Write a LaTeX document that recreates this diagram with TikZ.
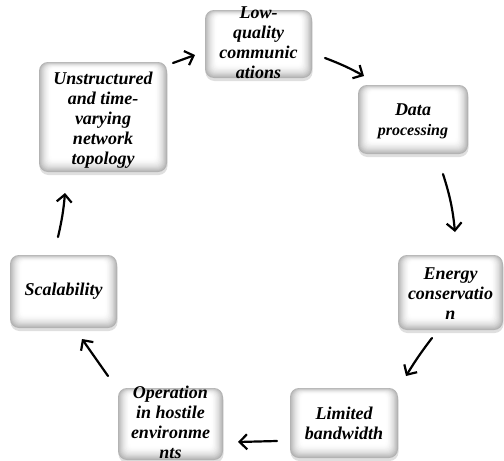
\documentclass[tikz,border=0pt]{standalone}
\usepackage{fontspec}
\setmainfont{Liberation Serif}
\usetikzlibrary{arrows.meta,shadows}
\tikzset{
  box/.style={rounded corners=9pt, inner sep=0pt, fill=black!30,
    drop shadow={opacity=0.25, shadow xshift=0.5pt, shadow yshift=-3pt},
    path picture={
      \foreach \i in {1,...,14}{
        \pgfmathsetmacro\c{30*(1-\i/14)^1.8}
        \pgfmathsetmacro\rc{max(3,9-0.4*\i)}
        \fill[black!\c, rounded corners=\rc pt]
          ([shift={(\i*0.85pt,-\i*0.45pt)}]path picture bounding box.north west)
          rectangle ([shift={(-\i*0.85pt,\i*0.95pt)}]path picture bounding box.south east);
      }}},
  txt/.style={align=center, inner sep=0pt, font=\fontsize{18}{20}\selectfont\bfseries\itshape},
  arr/.style={line width=2.2pt, line cap=round, -{Straight Barb[length=7.5pt, width=15pt, line width=2.2pt]}}
}
\begin{document}
\begin{tikzpicture}[x=1pt,y=-1pt]
\useasboundingbox[fill=white] (0,0) rectangle (504,461);
% boxes
\node[box, minimum width=107pt, minimum height=68pt] (lq) at (258.5,44) {};
\node[box, minimum width=128pt, minimum height=110pt] (un) at (103,117) {};
\node[box, minimum width=110pt, minimum height=69pt] (dp) at (413,119.5) {};
\node[box, minimum width=105pt, minimum height=75pt] (ec) at (450.5,292.5) {};
\node[box, minimum width=107pt, minimum height=73pt] (sc) at (63.5,291.5) {};
\node[box, minimum width=105pt, minimum height=72pt] (op) at (170.5,424) {};
\node[box, minimum width=108pt, minimum height=70pt] (lb) at (344,423) {};
% texts
\node[txt] (lqt) at ([yshift=1pt]lq.center) {Low-\\quality\\communic\\ations};
\node[txt] (unt) at ([yshift=-3pt]un.center) {Unstructured\\and time-\\varying\\network\\topology};
\node[txt] (dpt) at ([yshift=-2pt]dp.center) {Data\\{\fontsize{16}{20}\selectfont processing}};
\node[txt] (ect) at ([yshift=-1pt]ec.center) {Energy\\conservatio\\n};
\node[txt] (sct) at (sc.center) {Scalability};
\node[txt] (opt) at ([yshift=1.5pt]op.center) {Operation\\in hostile\\environme\\nts};
\node[txt] (lbt) at (lb.center) {Limited\\bandwidth};
% arrow end points
\coordinate (a1s) at (173,63);  \coordinate (a1e) at (195,55);
\coordinate (a2s) at (325,58);  \coordinate (a2e) at (364,76);
\coordinate (a3s) at (443,174); \coordinate (a3e) at (455,232);
\coordinate (a4s) at (432,338); \coordinate (a4e) at (406,376);
\coordinate (a5s) at (277,441); \coordinate (a5e) at (238,442);
\coordinate (a6s) at (108,376); \coordinate (a6e) at (82,339);
\coordinate (a7s) at (58,237);  \coordinate (a7e) at (65,193);
\draw[arr] (a1s) -- (a1e);
\draw[arr] (a2s) to[bend left=4] (a2e);
\draw[arr] (a3s) to[bend left=6] (a3e);
\draw[arr] (a4s) to[bend right=3] (a4e);
\draw[arr] (a5s) -- (a5e);
\draw[arr] (a6s) -- (a6e);
\draw[arr] (a7s) to[bend right=4] (a7e);
\end{tikzpicture}
\end{document}
